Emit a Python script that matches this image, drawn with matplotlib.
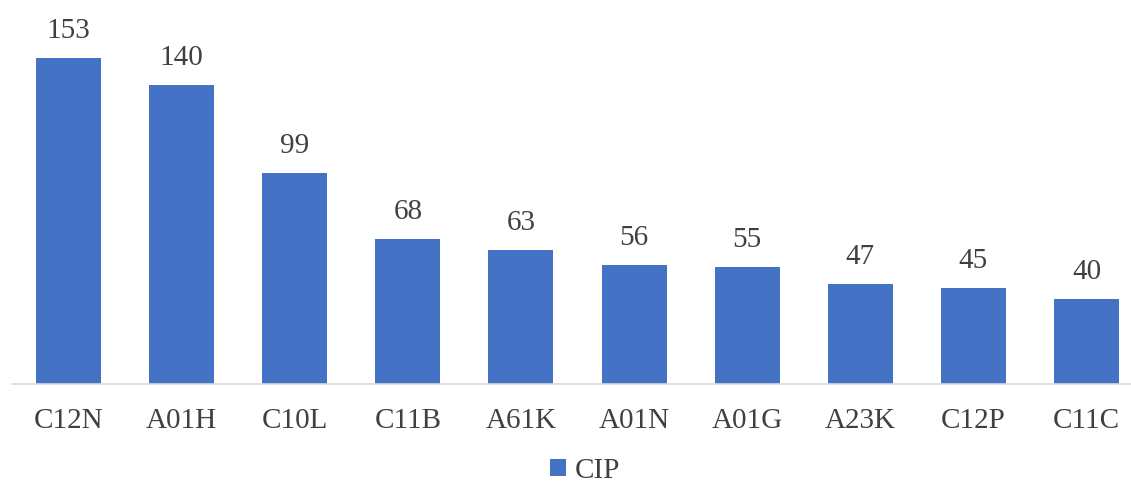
import matplotlib.pyplot as plt
import numpy as np

categories = ["C12N", "A01H", "C10L", "C11B", "A61K", "A01N", "A01G", "A23K", "C12P", "C11C"]
values = [153, 140, 99, 68, 63, 56, 55, 47, 45, 40]
series_name = "CIP"

plt.rcParams['font.family'] = ['Liberation Serif', 'DejaVu Serif']
textColor = '#404040'
barColor = '#4472C4'

fig = plt.figure(figsize=(11.31, 4.84), dpi=100)
W, H = 1131, 484
# axes spans past the right edge like the cropped original
ax = fig.add_axes([12 / W, 100 / H, 1131 / W, 384 / H])

x = np.arange(len(categories))
bars = ax.bar(x, values, width=0.575, color=barColor, label=series_name, zorder=2)

for xi, v in zip(x, values):
    ax.annotate(str(v), (xi, v), xytext=(0, 10), textcoords='offset points',
                ha='center', va='bottom', fontsize=21, color=textColor)

ax.set_xlim(-0.5, len(categories) - 0.5)
ax.set_ylim(0, 180)
ax.set_xticks(x)
ax.set_xticklabels(categories, fontsize=21, color=textColor)
ax.tick_params(axis='x', length=0, pad=17)
ax.set_yticks([])
for side in ['top', 'right', 'left']:
    ax.spines[side].set_visible(False)
ax.spines['bottom'].set_color('#D9D9D9')
ax.spines['bottom'].set_linewidth(1.2)

fig.legend(handles=[bars], labels=[series_name], loc='center',
           bbox_to_anchor=(585 / W, 1 - 471 / H), frameon=False,
           fontsize=21, labelcolor=textColor, handlelength=0.55, handleheight=0.55,
           handletextpad=0.3, borderpad=0)

fig.savefig('out.png', dpi=100)
